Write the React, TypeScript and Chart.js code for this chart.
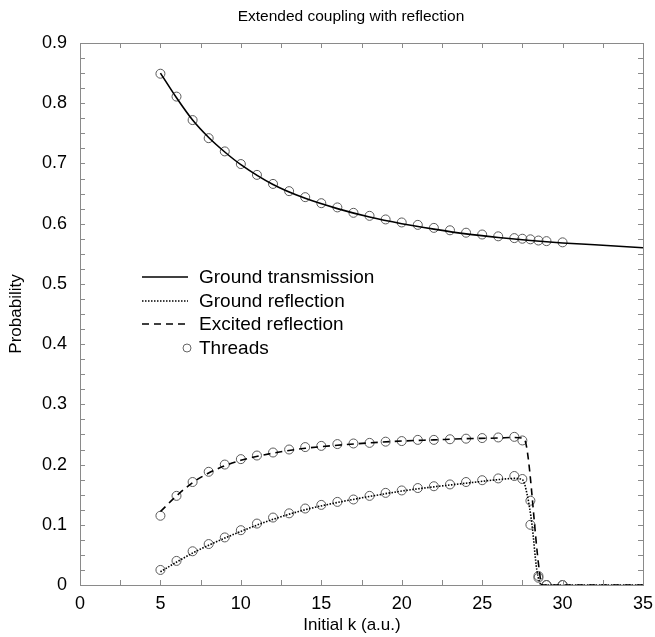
import React, { useEffect, useRef } from "react";
import { Chart, registerables } from "chart.js";

Chart.register(...registerables);

// ---- data ----
const titleText = "Extended coupling with reflection";
const xTitle = "Initial k (a.u.)";
const yTitle = "Probability";
const legendLabels = ["Ground transmission", "Ground reflection", "Excited reflection", "Threads"];

const xTicks = [0, 5, 10, 15, 20, 25, 30, 35];
const yTicks = [0, 0.1, 0.2, 0.3, 0.4, 0.5, 0.6, 0.7, 0.8, 0.9];

// solid line: ground transmission
const transK = [5, 6, 7, 8, 9, 10, 12, 14, 16, 18, 20, 22, 24, 26, 28, 30, 32, 35];
const transP = [0.85, 0.809, 0.772, 0.743, 0.719, 0.698, 0.665, 0.642, 0.625, 0.611, 0.6, 0.591, 0.583, 0.577, 0.572, 0.568, 0.565, 0.56];

// dotted line: ground reflection
const groundK = [5, 6, 7, 8, 10, 12, 14, 16, 18, 20, 22, 24, 26, 27, 27.5, 27.8, 28.1, 28.4, 28.7, 35];
const groundP = [0.022, 0.038, 0.053, 0.066, 0.089, 0.109, 0.125, 0.137, 0.147, 0.156, 0.163, 0.169, 0.175, 0.177, 0.175, 0.15, 0.1, 0.025, 0, 0];

// dashed line: excited reflection
const excitedK = [5, 6, 7, 8, 9, 10, 12, 14, 16, 18, 20, 22, 24, 26, 27, 27.6, 28.55, 28.7, 35];
const excitedP = [0.122, 0.148, 0.17, 0.186, 0.198, 0.207, 0.219, 0.227, 0.232, 0.236, 0.239, 0.241, 0.243, 0.244, 0.245, 0.243, 0.025, 0, 0];

// circles: threads
const threadK = [5, 6, 7, 8, 9, 10, 11, 12, 13, 14, 15, 16, 17, 18, 19, 20, 21, 22, 23, 24, 25, 26, 27, 27.5, 28, 28.5, 29, 30];
const threadTrans = [0.849, 0.811, 0.772, 0.742, 0.72, 0.699, 0.681, 0.666, 0.654, 0.644, 0.634, 0.627, 0.618, 0.613, 0.607, 0.602, 0.598, 0.593, 0.589, 0.585, 0.582, 0.579, 0.576, 0.575, 0.574, 0.572, 0.571, 0.569];
const threadGround = [0.025, 0.04, 0.056, 0.068, 0.079, 0.091, 0.102, 0.112, 0.119, 0.127, 0.133, 0.138, 0.142, 0.148, 0.153, 0.157, 0.161, 0.164, 0.167, 0.171, 0.174, 0.177, 0.181, 0.176, 0.1, 0.015, 0, 0];
const threadExcited = [0.115, 0.148, 0.171, 0.188, 0.2, 0.209, 0.215, 0.22, 0.225, 0.229, 0.231, 0.234, 0.235, 0.236, 0.238, 0.239, 0.241, 0.241, 0.242, 0.243, 0.244, 0.245, 0.246, 0.24, 0.14, 0.012, 0, 0];

const FONT = "'Liberation Sans', Arial, Helvetica, sans-serif";
const W = 655;
const H = 637;

const zip = (xs: number[], ys: number[]) => xs.map((x, i) => ({ x, y: ys[i] }));

const decorPlugin = {
  id: "decor",
  afterDraw(chart: any) {
    const { ctx, chartArea, scales } = chart;
    const { left, right, top, bottom } = chartArea;
    const xs = scales.x;
    const ys = scales.y;
    ctx.save();
    // frame
    ctx.strokeStyle = "#8a8a8a";
    ctx.lineWidth = 1;
    ctx.strokeRect(Math.round(left) + 0.5, Math.round(top) + 0.5, Math.round(right - left), Math.round(bottom - top));
    // inward ticks
    ctx.beginPath();
    for (let i = 0; i <= 14; i++) {
      const px = Math.round(xs.getPixelForValue(i * 2.5)) + 0.5;
      ctx.moveTo(px, bottom);
      ctx.lineTo(px, bottom - 5);
      ctx.moveTo(px, top);
      ctx.lineTo(px, top + 5);
    }
    for (let i = 0; i <= 36; i++) {
      const py = Math.round(ys.getPixelForValue(i * 0.025)) + 0.5;
      ctx.moveTo(left, py);
      ctx.lineTo(left + 5, py);
      ctx.moveTo(right, py);
      ctx.lineTo(right - 5, py);
    }
    ctx.stroke();

    // titles
    ctx.fillStyle = "#000";
    ctx.textAlign = "center";
    ctx.textBaseline = "middle";
    ctx.font = `15.5px ${FONT}`;
    ctx.fillText(titleText, 351, 17);
    ctx.font = `17px ${FONT}`;
    ctx.fillText(xTitle, 352, 625);
    ctx.save();
    ctx.translate(16, (top + bottom) / 2);
    ctx.rotate(-Math.PI / 2);
    ctx.fillText(yTitle, 0, 0);
    ctx.restore();

    // legend
    const rows = [277, 301, 324, 348];
    const lx0 = 142;
    const lx1 = 188;
    ctx.textAlign = "left";
    ctx.font = `19px ${FONT}`;
    ctx.strokeStyle = "#000";
    ctx.lineWidth = 1.6;
    const dashes = [[], [1.5, 1.5], [7, 5]];
    for (let i = 0; i < 3; i++) {
      ctx.setLineDash(dashes[i]);
      ctx.beginPath();
      ctx.moveTo(lx0, rows[i]);
      ctx.lineTo(lx1, rows[i]);
      ctx.stroke();
    }
    ctx.setLineDash([]);
    ctx.strokeStyle = "#666";
    ctx.lineWidth = 1;
    ctx.beginPath();
    ctx.arc(187, rows[3], 4, 0, Math.PI * 2);
    ctx.stroke();
    for (let i = 0; i < 4; i++) {
      ctx.fillText(legendLabels[i], 199, rows[i] + 1);
    }
    ctx.restore();
  },
};

export default function App() {
  const ref = useRef<HTMLCanvasElement | null>(null);
  useEffect(() => {
    if (!ref.current) return;
    const lineBase = {
      type: "line" as const,
      borderColor: "#000",
      borderWidth: 1.6,
      pointRadius: 0,
      fill: false,
      cubicInterpolationMode: "monotone" as const,
    };
    const circle = (ys: number[]) => ({
      type: "scatter" as const,
      data: zip(threadK, ys),
      showLine: false,
      pointStyle: "circle",
      pointRadius: 4.5,
      pointBorderWidth: 1,
      pointBorderColor: "#5a5a5a",
      pointBackgroundColor: "rgba(0,0,0,0)",
    });
    const chart = new Chart(ref.current, {
      type: "line",
      data: {
        datasets: [
          { ...lineBase, label: legendLabels[0], data: zip(transK, transP) },
          { ...lineBase, label: legendLabels[1], data: zip(groundK, groundP), borderDash: [1.5, 1.5] },
          { ...lineBase, label: legendLabels[2], data: zip(excitedK, excitedP), borderDash: [7, 5] },
          { ...circle(threadTrans), label: legendLabels[3] },
          { ...circle(threadGround), label: legendLabels[3] + " g" },
          { ...circle(threadExcited), label: legendLabels[3] + " e" },
        ] as any,
      },
      options: {
        responsive: false,
        animation: false,
        layout: { padding: { top: 43, right: 12, left: 0, bottom: 0 } },
        plugins: {
          legend: { display: false },
          title: { display: false },
          tooltip: { enabled: false },
        },
        scales: {
          x: {
            type: "linear",
            min: 0,
            max: 35,
            afterBuildTicks: (s: any) => {
              s.ticks = xTicks.map((v) => ({ value: v }));
            },
            afterFit: (s: any) => {
              s.height = 52;
              s.paddingLeft = 0;
              s.paddingRight = 0;
            },
            grid: { display: false, drawTicks: false },
            border: { display: false },
            ticks: {
              color: "#000",
              font: { family: FONT, size: 18 },
              padding: 8,
              maxRotation: 0,
              callback: (v: any) => String(v),
            },
          },
          y: {
            type: "linear",
            min: 0,
            max: 0.9,
            afterBuildTicks: (s: any) => {
              s.ticks = yTicks.map((v) => ({ value: v }));
            },
            afterFit: (s: any) => {
              s.width = 80;
              s.paddingTop = 0;
              s.paddingBottom = 0;
            },
            grid: { display: false, drawTicks: false },
            border: { display: false },
            ticks: {
              color: "#000",
              font: { family: FONT, size: 18 },
              padding: 13,
              callback: (v: any) => (v === 0 ? "0" : Number(v).toFixed(1)),
            },
          },
        },
      } as any,
      plugins: [decorPlugin],
    });
    return () => chart.destroy();
  }, []);
  return (
    <div style={{ position: "absolute", left: 0, top: 0, width: W, height: H, background: "#fff" }}>
      <canvas ref={ref} width={W} height={H} style={{ width: W, height: H, display: "block" }} />
    </div>
  );
}
